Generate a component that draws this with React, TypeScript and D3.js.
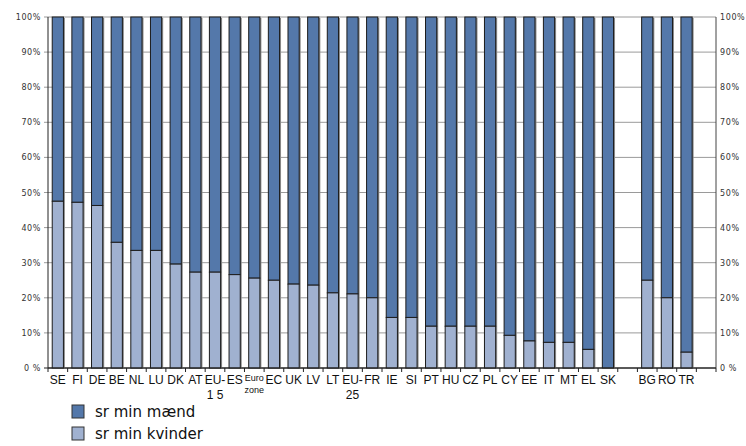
import React from "react";
import * as d3 from "d3";

const categories = ["SE","FI","DE","BE","NL","LU","DK","AT","EU-15","ES","Euro zone","EC","UK","LV","LT","EU-25","FR","IE","SI","PT","HU","CZ","PL","CY","EE","IT","MT","EL","SK","_gap1","BG","RO","TR","_gap2"];
const kvinder = [47.5,47.2,46.3,35.8,33.5,33.5,29.6,27.3,27.3,26.6,25.6,25.0,23.9,23.6,21.4,21.1,20.0,14.4,14.4,11.9,11.9,11.9,11.9,9.3,7.7,7.3,7.3,5.3,0,null,25.0,20.0,4.5,null];
const maend = kvinder.map(v => (v == null ? null : 100 - v));
const yTicks = [0,10,20,30,40,50,60,70,80,90,100];
const seriesNames = ["sr min mænd", "sr min kvinder"];
const colors = ["#5478AA", "#A0B1D0"];

const labelLines: Record<string, string[]> = {
  "EU-15": ["EU-", "1 5"],
  "Euro zone": ["Euro", "zone"],
  "EU-25": ["EU-", "25"],
};

export default function App() {
  const W = 746, H = 446;
  const left = 48, right = 716, top = 17, bottom = 368;
  const x = d3.scaleBand<string>().domain(categories).range([left, right]).paddingInner(0.43).paddingOuter(0.215);
  const y = d3.scaleLinear().domain([0, 100]).range([bottom, top]);
  const step = x.step();
  const axisFont = "'DejaVu Sans', Verdana, sans-serif";
  const labelFont = "'Liberation Sans Narrow', 'Liberation Sans', Arial, sans-serif";

  return (
    <svg width={W} height={H} style={{ position: "absolute", left: 0, top: 0, background: "#fff" }}>
      {yTicks.map(t => (
        <line key={"g" + t} x1={left - 4} x2={right} y1={y(t)} y2={y(t)} stroke={t === 0 ? "#222" : "#9a9a9a"} strokeWidth={1} />
      ))}
      <line x1={left} x2={left} y1={top} y2={bottom} stroke="#222" />
      <line x1={right} x2={right} y1={top} y2={bottom} stroke="#444" />
      {categories.map((c, i) => {
        const k = kvinder[i];
        const m = maend[i];
        if (k == null || m == null) return null;
        const bx = x(c)!;
        const bw = x.bandwidth();
        return (
          <g key={c}>
            <rect x={bx + 1.5} y={y(100) + 1} width={bw} height={y(0) - y(100) - 1} fill="#8c8c8c" />
            <rect x={bx} y={y(100)} width={bw} height={y(k) - y(100)} fill={colors[0]} stroke="#1c1c1c" strokeWidth={1} />
            {k > 0 && <rect x={bx} y={y(k)} width={bw} height={y(0) - y(k)} fill={colors[1]} stroke="#1c1c1c" strokeWidth={1} />}
          </g>
        );
      })}
      {d3.range(categories.length + 1).map(i => (
        <line key={"xt" + i} x1={left + i * step} x2={left + i * step} y1={bottom} y2={bottom + 4} stroke="#222" />
      ))}
      <line x1={left} x2={right} y1={bottom} y2={bottom} stroke="#222" />
      {yTicks.map(t => (
        <g key={"yl" + t}>
          <text x={41} y={y(t) + 3} textAnchor="end" fontSize={8} fontFamily={axisFont} fill="#333" letterSpacing={0.6}>{t === 0 ? "0 %" : t + "%"}</text>
          <text x={720} y={y(t) + 3} textAnchor="start" fontSize={8} fontFamily={axisFont} fill="#333" letterSpacing={0.6}>{t === 0 ? "0 %" : t + "%"}</text>
        </g>
      ))}
      {categories.map(c => {
        if (c.startsWith("_")) return null;
        const cx = x(c)! + x.bandwidth() / 2;
        const lines = labelLines[c] || [c];
        const small = c === "Euro zone";
        return (
          <text key={"xl" + c} x={cx} textAnchor="middle" fontFamily={labelFont} fontSize={small ? 9 : 12} fill="#111">
            {lines.map((l, j) => (
              <tspan key={j} x={cx} y={small ? 381 + j * 12 : 384 + j * 15}>{l}</tspan>
            ))}
          </text>
        );
      })}
      {seriesNames.map((s, i) => (
        <g key={s}>
          <rect x={72} y={405 + i * 22} width={12} height={13} fill={colors[i]} stroke="#333" />
          <text x={95} y={417 + i * 22} fontSize={15} fontFamily={axisFont} fill="#111">{s}</text>
        </g>
      ))}
    </svg>
  );
}
